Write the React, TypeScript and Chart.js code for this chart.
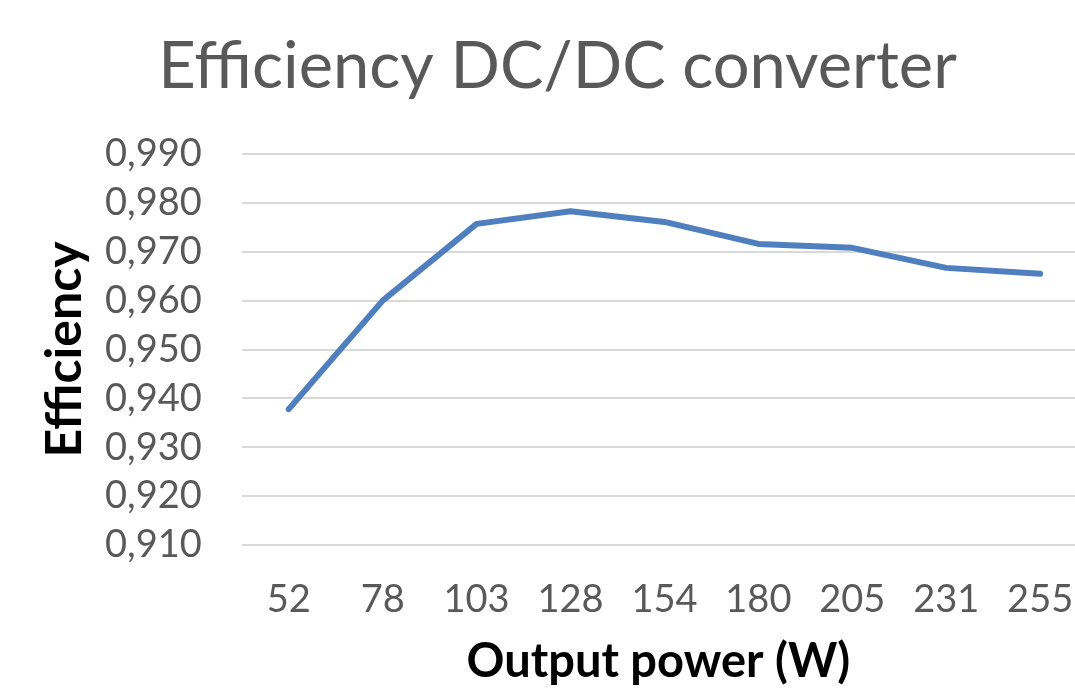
import React, { useEffect, useRef } from "react";
import { Chart, registerables } from "chart.js";

Chart.register(...registerables);

const categories = ["52", "78", "103", "128", "154", "180", "205", "231", "255"];
const efficiency = [0.9378, 0.96, 0.9757, 0.9783, 0.9761, 0.9716, 0.9708, 0.9667, 0.9655];
const yTicks = [0.91, 0.92, 0.93, 0.94, 0.95, 0.96, 0.97, 0.98, 0.99];

const FONT = "Lato, 'Open Sans', sans-serif";

export default function App() {
  const ref = useRef<HTMLCanvasElement | null>(null);
  useEffect(() => {
    document.body.style.margin = "0";
    if (!ref.current) return;
    const points = efficiency.map((y, i) => ({ x: i, y }));
    const chart = new Chart(ref.current, {
      type: "line",
      data: {
        datasets: [
          {
            data: points,
            borderColor: "#4f7fbf",
            borderWidth: 6,
            pointRadius: 0,
            tension: 0,
            borderCapStyle: "round",
            borderJoinStyle: "round",
          },
        ],
      },
      options: {
        animation: false,
        responsive: false,
        layout: { padding: { left: 40, right: 0, top: 0, bottom: 0 } },
        plugins: {
          legend: { display: false },
          tooltip: { enabled: false },
          title: {
            display: true,
            text: "Efficiency DC/DC converter",
            color: "#595959",
            font: { family: FONT, size: 65, weight: "normal" },
            padding: { top: 28, bottom: 48 },
          },
        },
        scales: {
          x: {
            type: "linear",
            min: -0.5,
            max: 8.371,
            afterBuildTicks: (axis: any) => {
              axis.ticks = categories.map((_, i) => ({ value: i }));
            },
            grid: { display: false, drawTicks: false },
            border: { display: false },
            ticks: {
              color: "#595959",
              font: { family: FONT, size: 38, lineHeight: 110 / 38 },
              padding: 0,
              maxRotation: 0,
              autoSkip: false,
              callback: (v: any) => categories[Math.round(Number(v))] ?? "",
            },
            title: {
              display: true,
              text: "Output power (W)",
              color: "#000",
              font: { family: FONT, size: 47, weight: "bold" },
              padding: { top: -21.4, bottom: 2 },
            },
          },
          y: {
            min: 0.91,
            max: 0.99,
            afterBuildTicks: (axis: any) => {
              axis.ticks = yTicks.map((v) => ({ value: v }));
            },
            grid: { color: "#d9d9d9", lineWidth: 2, drawTicks: false },
            border: { display: false },
            ticks: {
              color: "#595959",
              font: { family: FONT, size: 38 },
              padding: 40,
              autoSkip: false,
              callback: (v: any) => Number(v).toFixed(3).replace(".", ","),
            },
            title: {
              display: true,
              text: "Efficiency",
              color: "#000",
              font: { family: FONT, size: 50, weight: "bold" },
              padding: { top: -5, bottom: -30 },
            },
          },
        },
      },
    });
    return () => chart.destroy();
  }, []);
  return (
    <div style={{ width: 1075, height: 692, background: "#fff", overflow: "hidden" }}>
      <canvas ref={ref} width={1075} height={692} />
    </div>
  );
}
